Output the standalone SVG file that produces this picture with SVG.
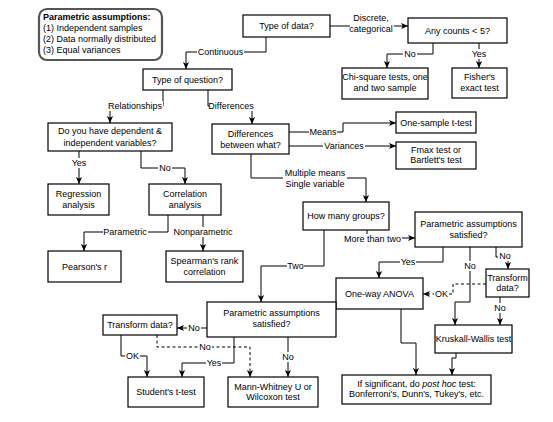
<svg xmlns="http://www.w3.org/2000/svg" width="553" height="422" viewBox="0 0 553 422">
<defs>
<style>
text{font-family:"Liberation Sans",Arial,sans-serif;font-size:9px;fill:#000}
.c{text-anchor:middle}
.b{font-weight:bold}
.box{fill:#fff;stroke:#000;stroke-width:1.2}
.ln{fill:none;stroke:#000;stroke-width:1}
.dash{stroke-dasharray:3,2.5}
.bg{fill:#fff}
</style>
<marker id="ah" viewBox="0 0 8 8" refX="8" refY="4" markerWidth="7" markerHeight="7" markerUnits="userSpaceOnUse" orient="auto"><path d="M0,0.5 L8,4 L0,7.5 L2,4 z" fill="#000"/></marker>
</defs>
<rect width="553" height="422" fill="#fff"/>

<g id="legend">
<rect x="39" y="9" width="123" height="51" rx="8" fill="#fff" stroke="#555" stroke-width="2.2"/>
<text x="43" y="20" class="b">Parametric assumptions:</text>
<text x="43" y="31">(1) Independent samples</text>
<text x="43" y="42">(2) Data normally distributed</text>
<text x="43" y="53">(3) Equal variances</text>
</g>

<g id="connectors">
<path class="ln" d="M330,26 H408" marker-end="url(#ah)"/>
<path class="ln" d="M266,37 V52 H186 V69" marker-end="url(#ah)"/>
<path class="ln" d="M433,43 V54 H387 V68" marker-end="url(#ah)"/>
<path class="ln" d="M479,43 V68" marker-end="url(#ah)"/>
<path class="ln" d="M163,90 V106 H110 V123" marker-end="url(#ah)"/>
<path class="ln" d="M208,90 V106 H252 V124" marker-end="url(#ah)"/>
<path class="ln" d="M79,151 V184" marker-end="url(#ah)"/>
<path class="ln" d="M141,151 V168 H185 V184" marker-end="url(#ah)"/>
<path class="ln" d="M168,215 V232 H84 V251" marker-end="url(#ah)"/>
<path class="ln" d="M203,215 V251" marker-end="url(#ah)"/>
<path class="ln" d="M289,132 H343 V123 H396" marker-end="url(#ah)"/>
<path class="ln" d="M289,146 H396" marker-end="url(#ah)"/>
<path class="ln" d="M251,154 V178 H366 V202" marker-end="url(#ah)"/>
<path class="ln" d="M367,230 V238 H415" marker-end="url(#ah)"/>
<path class="ln" d="M324,230 V266 H261 V302" marker-end="url(#ah)"/>
<path class="ln" d="M443,247 V262 H379 V278" marker-end="url(#ah)"/>
<path class="ln" d="M470,247 V302 H455 V325" marker-end="url(#ah)"/>
<path class="ln" d="M496,247 V257 H508 V269" marker-end="url(#ah)"/>
<path class="ln dash" d="M486,284 H453 V294 H423" marker-end="url(#ah)"/>
<path class="ln" d="M500,297 V325" marker-end="url(#ah)"/>
<path class="ln" d="M401,309 V343 H416 V375" marker-end="url(#ah)"/>
<path class="ln" d="M456,353 V358 H452 V375" marker-end="url(#ah)"/>
<path class="ln" d="M207,328 H177" marker-end="url(#ah)"/>
<path class="ln" d="M121,335 V356 H147 V377" marker-end="url(#ah)"/>
<path class="ln dash" d="M157,335 V347 H250 V377" marker-end="url(#ah)"/>
<path class="ln" d="M234,337 V363 H182 V377" marker-end="url(#ah)"/>
<path class="ln" d="M288,337 V377" marker-end="url(#ah)"/>

<g id="labels">
<rect class="bg" x="197" y="47" width="47" height="10"/><text class="c" x="220.5" y="55.2">Continuous</text>
<rect class="bg" x="350" y="12" width="44" height="22"/><text class="c" x="371" y="21.2">Discrete,</text><text class="c" x="371" y="32.2">categorical</text>
<rect class="bg" x="403" y="49" width="14" height="10"/><text class="c" x="410" y="57.2">No</text>
<rect class="bg" x="471" y="49" width="16" height="10"/><text class="c" x="479" y="57.2">Yes</text>
<rect class="bg" x="107" y="101" width="56" height="10"/><text class="c" x="135" y="109.2">Relationships</text>
<rect class="bg" x="209" y="101" width="44" height="10"/><text class="c" x="231" y="109.2">Differences</text>
<rect class="bg" x="71" y="158" width="16" height="10"/><text class="c" x="79" y="166.2">Yes</text>
<rect class="bg" x="158" y="163" width="14" height="10"/><text class="c" x="165" y="171.2">No</text>
<rect class="bg" x="103" y="227" width="45" height="10"/><text class="c" x="125" y="235.2">Parametric</text>
<rect class="bg" x="173" y="227" width="61" height="10"/><text class="c" x="203" y="235.2">Nonparametric</text>
<rect class="bg" x="309" y="127" width="28" height="10"/><text class="c" x="323" y="135.2">Means</text>
<rect class="bg" x="323" y="141" width="42" height="10"/><text class="c" x="344" y="149.2">Variances</text>
<rect class="bg" x="283" y="167" width="64" height="22"/><text class="c" x="315" y="176.2">Multiple means</text><text class="c" x="315" y="187.2">Single variable</text>
<rect class="bg" x="343" y="234" width="59" height="10"/><text class="c" x="372.5" y="242.2">More than two</text>
<rect class="bg" x="287" y="261" width="17" height="10"/><text class="c" x="295.5" y="269.2">Two</text>
<rect class="bg" x="400" y="257" width="16" height="10"/><text class="c" x="408" y="265.2">Yes</text>
<rect class="bg" x="463" y="261" width="14" height="10"/><text class="c" x="470" y="269.2">No</text>
<rect class="bg" x="498" y="251" width="14" height="10"/><text class="c" x="505" y="259.2">No</text>
<rect class="bg" x="434" y="289" width="15" height="10"/><text class="c" x="441.5" y="297.2">OK</text>
<rect class="bg" x="493" y="303" width="14" height="10"/><text class="c" x="500" y="311.2">No</text>
<rect class="bg" x="187" y="323" width="14" height="10"/><text class="c" x="194" y="331.2">No</text>
<rect class="bg" x="125" y="351" width="15" height="10"/><text class="c" x="132.5" y="359.2">OK</text>
<rect class="bg" x="198" y="342" width="14" height="10"/><text class="c" x="205" y="350.2">No</text>
<rect class="bg" x="206" y="358" width="16" height="10"/><text class="c" x="214" y="366.2">Yes</text>
<rect class="bg" x="281" y="352" width="14" height="10"/><text class="c" x="288" y="360.2">No</text>
</g>
</g>

<g id="typedata"><rect class="box" x="243" y="15" width="87" height="22"/><text class="c" x="286.5" y="29.2">Type of data?</text></g>
<g id="anycounts"><rect class="box" x="408" y="18" width="99" height="25"/><text class="c" x="457.5" y="33.7">Any counts &lt; 5?</text></g>
<g id="chisquare"><rect class="box" x="342" y="68" width="86" height="31"/><text class="c" x="385" y="80.2">Chi-square tests, one</text><text class="c" x="385" y="91.2">and two sample</text></g>
<g id="fisher"><rect class="box" x="452" y="68" width="55" height="30"/><text class="c" x="479.5" y="80.2">Fisher's</text><text class="c" x="479.5" y="91.2">exact test</text></g>
<g id="typequestion"><rect class="box" x="143" y="69" width="89" height="21"/><text class="c" x="187.5" y="82.7">Type of question?</text></g>
<g id="dependent"><rect class="box" x="48" y="123" width="124" height="28"/><text class="c" x="110" y="134.2">Do you have dependent &amp;</text><text class="c" x="110" y="146.2">independent variables?</text></g>
<g id="diffwhat"><rect class="box" x="212" y="124" width="77" height="30"/><text class="c" x="250.5" y="136.7">Differences</text><text class="c" x="250.5" y="147.7">between what?</text></g>
<g id="onesample"><rect class="box" x="396" y="112" width="80" height="21"/><text class="c" x="436" y="125.7">One-sample t-test</text></g>
<g id="fmax"><rect class="box" x="396" y="142" width="80" height="27"/><text class="c" x="436" y="153.2">Fmax test or</text><text class="c" x="436" y="163.2">Bartlett's test</text></g>
<g id="regression"><rect class="box" x="48" y="184" width="61" height="31"/><text class="c" x="78.5" y="197.2">Regression</text><text class="c" x="78.5" y="208.2">analysis</text></g>
<g id="correlation"><rect class="box" x="149" y="184" width="72" height="31"/><text class="c" x="185" y="197.2">Correlation</text><text class="c" x="185" y="208.2">analysis</text></g>
<g id="pearson"><rect class="box" x="48" y="251" width="73" height="31"/><text class="c" x="84.5" y="269.7">Pearson's r</text></g>
<g id="spearman"><rect class="box" x="166" y="251" width="77" height="31"/><text class="c" x="204.5" y="264.2">Spearman's rank</text><text class="c" x="204.5" y="275.2">correlation</text></g>
<g id="howmany"><rect class="box" x="303" y="202" width="86" height="28"/><text class="c" x="346" y="219.2">How many groups?</text></g>
<g id="param1"><rect class="box" x="415" y="212" width="107" height="35"/><text class="c" x="468.5" y="227.2">Parametric assumptions</text><text class="c" x="468.5" y="238.2">satisfied?</text></g>
<g id="transform1"><rect class="box" x="486" y="269" width="43" height="28"/><text class="c" x="507.5" y="281.2">Transform</text><text class="c" x="507.5" y="291.2">data?</text></g>
<g id="anova"><rect class="box" x="336" y="278" width="87" height="31"/><text class="c" x="379.5" y="296.7">One-way ANOVA</text></g>
<g id="kruskal"><rect class="box" x="435" y="325" width="77" height="28"/><text class="c" x="473.5" y="342.2">Kruskall-Wallis test</text></g>
<g id="ifsig"><rect class="box" x="342" y="375" width="149" height="29"/><text class="c" x="416.5" y="387.2">If significant, do <tspan font-style="italic">post hoc</tspan> test:</text><text class="c" x="416.5" y="397.2">Bonferroni's, Dunn's, Tukey's, etc.</text></g>
<g id="param2"><rect class="box" x="207" y="302" width="129" height="35"/><text class="c" x="271.5" y="316.2">Parametric assumptions</text><text class="c" x="271.5" y="327.2">satisfied?</text></g>
<g id="transform2"><rect class="box" x="103" y="315" width="74" height="20"/><text class="c" x="140" y="328.2">Transform data?</text></g>
<g id="student"><rect class="box" x="128" y="377" width="76" height="30"/><text class="c" x="166" y="395.2">Student's t-test</text></g>
<g id="mann"><rect class="box" x="228" y="377" width="90" height="30"/><text class="c" x="273" y="390.2">Mann-Whitney U or</text><text class="c" x="273" y="400.2">Wilcoxon test</text></g>
</svg>
